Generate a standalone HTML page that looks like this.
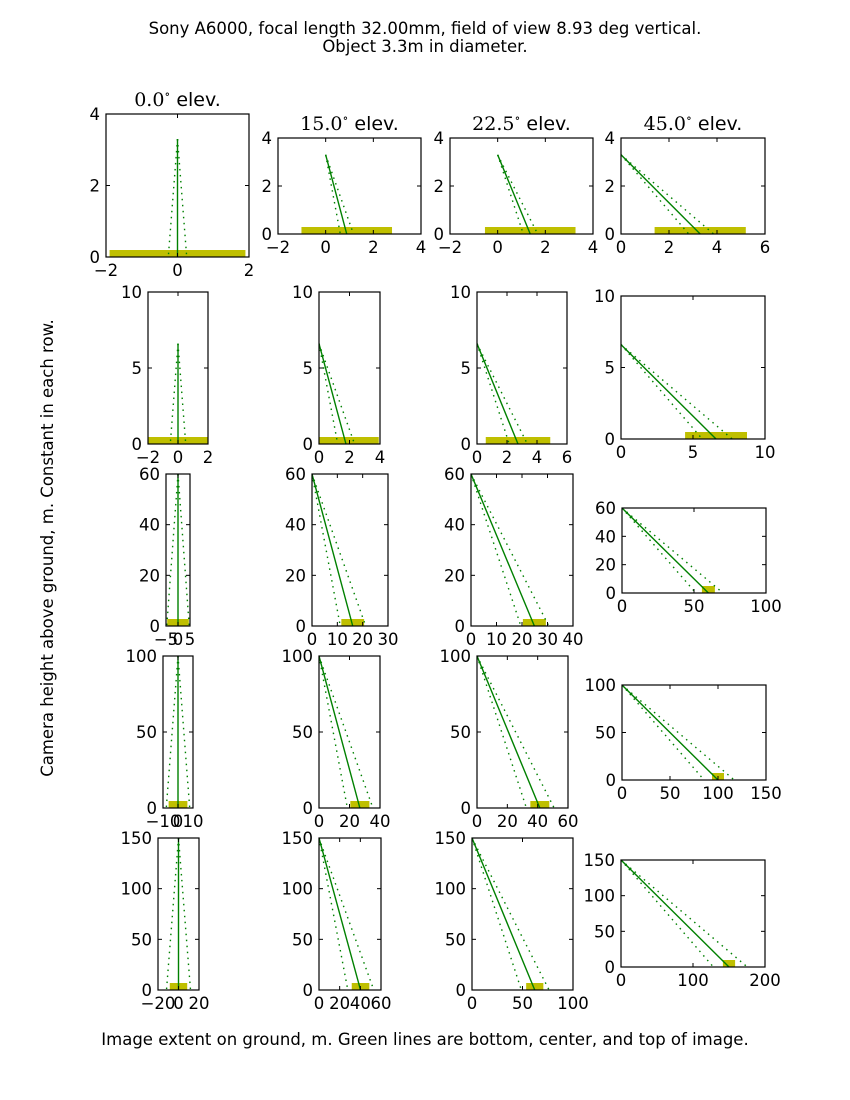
<!DOCTYPE html>
<html><head><meta charset="utf-8"><style>
body{margin:0;background:#fff;}
svg{display:block;font-family:"DejaVu Sans","Liberation Sans",sans-serif;}
</style></head><body>
<svg id="fig" width="850" height="1100" viewBox="0 0 850 1100">
<text x="425" y="34" text-anchor="middle" font-size="16.5">Sony A6000,  focal length 32.00mm, field of view 8.93 deg vertical.</text>
<text x="425" y="52" text-anchor="middle" font-size="16.5">Object 3.3m in diameter.</text>
<text transform="translate(53,548) rotate(-90)" text-anchor="middle" font-size="16.5">Camera height above ground, m. Constant in each row.</text>
<text x="425" y="1045" text-anchor="middle" font-size="16.5">Image extent on ground, m. Green lines are bottom, center, and top of image.</text>
</svg>
<script>
const heights=[3.3,6.6,60,100,150];
const elevations=[0,15,22.5,45];
const fovDeg=8.93;
const barWidths=[3.8,4.3,9,12.5,17];
const xLims=[
 [[-2,2],[-2,4],[-2,4],[0,6]],
 [[-2,2],[0,4],[0,6],[0,10]],
 [[-5,5],[0,30],[0,40],[0,100]],
 [[-10,10],[0,40],[0,60],[0,150]],
 [[-20,20],[0,60],[0,100],[0,200]]];
const yLims=[[0,4],[0,10],[0,60],[0,100],[0,150]];
const xTicks=[
 [[-2,0,2],[-2,0,2,4],[-2,0,2,4],[0,2,4,6]],
 [[-2,0,2],[0,2,4],[0,2,4,6],[0,5,10]],
 [[-5,0,5],[0,10,20,30],[0,10,20,30,40],[0,50,100]],
 [[-10,0,10],[0,20,40],[0,20,40,60],[0,50,100,150]],
 [[-20,0,20],[0,20,40,60],[0,50,100],[0,100,200]]];
const yTicks=[[0,2,4],[0,5,10],[0,20,40,60],[0,50,100],[0,50,100,150]];
const boxes=[
 [[106,249,114,257],[278,421,138,234],[450,593,138,234],[621,765,138,234]],
 [[148,208,292,444],[319,380,292,444],[477,567,292,444],[621,765,296,439]],
 [[166,190,474,626],[312,388,474,626],[471,573,474,626],[622,766,508,593]],
 [[163,193,656,808],[319,380,656,808],[477,568,656,808],[622,766,685,780]],
 [[158,199,838,990],[319,381,838,990],[472,573,838,990],[621,765,860,967]]];
const NS='http://www.w3.org/2000/svg';
const fig=document.getElementById('fig');
function mk(tag,attrs,parent){const e=document.createElementNS(NS,tag);for(const k in attrs)e.setAttribute(k,attrs[k]);(parent||fig).appendChild(e);return e;}
const defs=mk('defs',{});
const half=fovDeg/2, rad=Math.PI/180;
for(let r=0;r<heights.length;r++){
 for(let c=0;c<elevations.length;c++){
  const [x0,x1,y0,y1]=boxes[r][c];
  const [xa,xb]=xLims[r][c],[ya,yb]=yLims[r];
  const sx=v=>x0+(v-xa)/(xb-xa)*(x1-x0);
  const sy=v=>y1-(v-ya)/(yb-ya)*(y1-y0);
  const g=mk('g',{});
  
  
  const cid='clip'+r+'_'+c;
  const cp=mk('clipPath',{id:cid},defs);
  mk('rect',{x:x0,y:y0,width:x1-x0,height:y1-y0},cp);
  const pg=mk('g',{'clip-path':'url(#'+cid+')'},g);
  const h=heights[r],el=elevations[c];
  const xc=h*Math.tan(el*rad);
  const bw=barWidths[r];
  const bar=mk('rect',{x:sx(xc-bw/2),y:y1-7,width:sx(xc+bw/2)-sx(xc-bw/2),height:7,fill:'#bfbf00'},pg);
  
  
  const angs=[el-half,el,el+half];
  angs.forEach((a,i)=>{
   const xe=h*Math.tan(a*rad);
   const ln=mk('line',{x1:sx(0),y1:sy(h),x2:sx(xe),y2:sy(0),stroke:'#008000','stroke-width':1.4},pg);
   if(i!==1){ln.setAttribute('stroke-dasharray','1.5 4.5');}
   
   
  });
  const fr=mk('rect',{x:x0,y:y0,width:x1-x0,height:y1-y0,fill:'none',stroke:'#000','stroke-width':1.2},g);
  
  
  xTicks[r][c].forEach(t=>{
   const X=sx(t);
   mk('line',{x1:X,y1:y1,x2:X,y2:y1-4,stroke:'#000'},g);
   mk('line',{x1:X,y1:y0,x2:X,y2:y0+4,stroke:'#000'},g);
   const tx=mk('text',{x:X,y:y1+19,'text-anchor':'middle','font-size':16.5},g);
   tx.textContent=t<0?'\u2212'+(-t):String(t);
   
   
  });
  yTicks[r].forEach(t=>{
   const Y=sy(t);
   mk('line',{x1:x0,y1:Y,x2:x0+4,y2:Y,stroke:'#000'},g);
   mk('line',{x1:x1,y1:Y,x2:x1-4,y2:Y,stroke:'#000'},g);
   const ty=mk('text',{x:x0-6,y:Y+6,'text-anchor':'end','font-size':16.5},g);
   ty.textContent=String(t);
   
   
  });
  if(r===0){
   const tt=mk('text',{x:(x0+x1)/2,y:y0-8,'text-anchor':'middle','font-size':19},g);
   const s1=mk('tspan',{'font-family':'"DejaVu Serif","Liberation Serif",serif'},tt);
   s1.textContent=el.toFixed(1);
   const s2=mk('tspan',{'font-size':12,dy:-8,'font-family':'"DejaVu Serif",serif'},tt);
   s2.textContent='\u2218';
   const s3=mk('tspan',{dy:8},tt);
   s3.textContent='  elev.';
   
   
  }
 }
}
</script>
</body></html>
